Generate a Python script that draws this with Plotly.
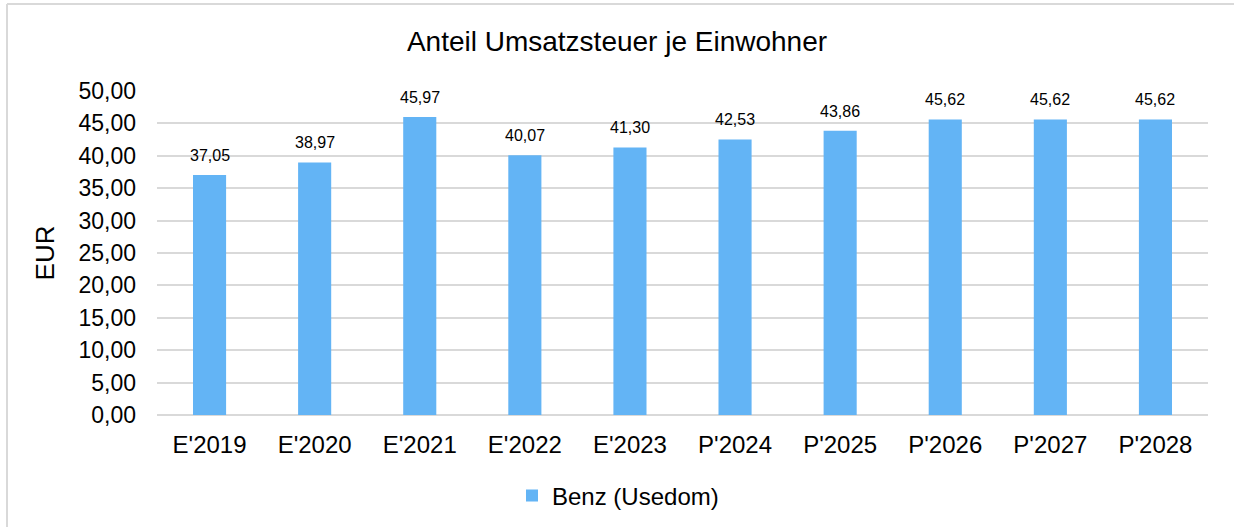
import plotly.graph_objects as go

categories = ["E'2019", "E'2020", "E'2021", "E'2022", "E'2023", "P'2024", "P'2025", "P'2026", "P'2027", "P'2028"]
values = [37.05, 38.97, 45.97, 40.07, 41.30, 42.53, 43.86, 45.62, 45.62, 45.62]
series_name = "Benz (Usedom)"
y_ticks = [0, 5, 10, 15, 20, 25, 30, 35, 40, 45, 50]

def de(v):
    return f"{v:.2f}".replace(".", ",")

W, H = 1234, 527
SX0, SX1, SY0, SY1 = 157, 1208, 91, 415
L, T = SX0, SY0
R, B = W - SX1, H - SY1
pw, ph = W - L - R, H - T - B

def px(x):
    return (x - SX0) / pw
def py(y):
    return (SY1 - y) / ph

FONT = "Liberation Sans, Arial, sans-serif"

fig = go.Figure()
fig.add_trace(go.Bar(
    x=categories, y=values, name=series_name,
    marker=dict(color="#63B4F5", line=dict(width=0)),
    hoverinfo="skip",
))

annotations = [
    dict(x=c, y=v, xref="x", yref="y", text=de(v), showarrow=False, yanchor="bottom",
         yshift=9, font=dict(family=FONT, size=16, color="#000000"))
    for c, v in zip(categories, values)
]

fig.update_layout(
    width=W, height=H,
    margin=dict(l=L, r=R, t=T, b=B, autoexpand=False),
    paper_bgcolor="white", plot_bgcolor="white",
    font=dict(family=FONT, color="#000000"),
    title=dict(text="Anteil Umsatzsteuer je Einwohner", x=px(617), xref="paper", y=1 - 41 / H,
               yanchor="middle", xanchor="center", font=dict(size=28)),
    bargap=0.685,
    showlegend=True,
    legend=dict(orientation="h", x=px(618), xanchor="center", xref="paper", y=py(496), yanchor="middle",
                font=dict(size=24), itemwidth=30),
    xaxis=dict(showgrid=False, showline=False, ticks="", tickfont=dict(size=24), ticklabelstandoff=13),
    yaxis=dict(range=[0, 50], tickvals=y_ticks, ticktext=[de(v) for v in y_ticks],
               showgrid=True, gridcolor="#D9D9D9", gridwidth=2, zeroline=True, zerolinecolor="#D9D9D9",
               zerolinewidth=2, showline=False, ticks="", tickfont=dict(size=23), ticklabelstandoff=20,
               title=dict(text="EUR", font=dict(size=26), standoff=16)),
    annotations=annotations,
    shapes=[
        dict(type="line", xref="paper", yref="paper", x0=px(7), x1=px(1240), y0=py(4), y1=py(4),
             line=dict(color="#D9D9D9", width=2), layer="below"),
        dict(type="line", xref="paper", yref="paper", x0=px(7), x1=px(7), y0=py(4), y1=py(540),
             line=dict(color="#D9D9D9", width=2), layer="below"),
    ],
)

fig.write_html("out.html", config={"displayModeBar": False},
               post_script="document.body.style.margin='0';document.body.style.overflow='hidden';")
